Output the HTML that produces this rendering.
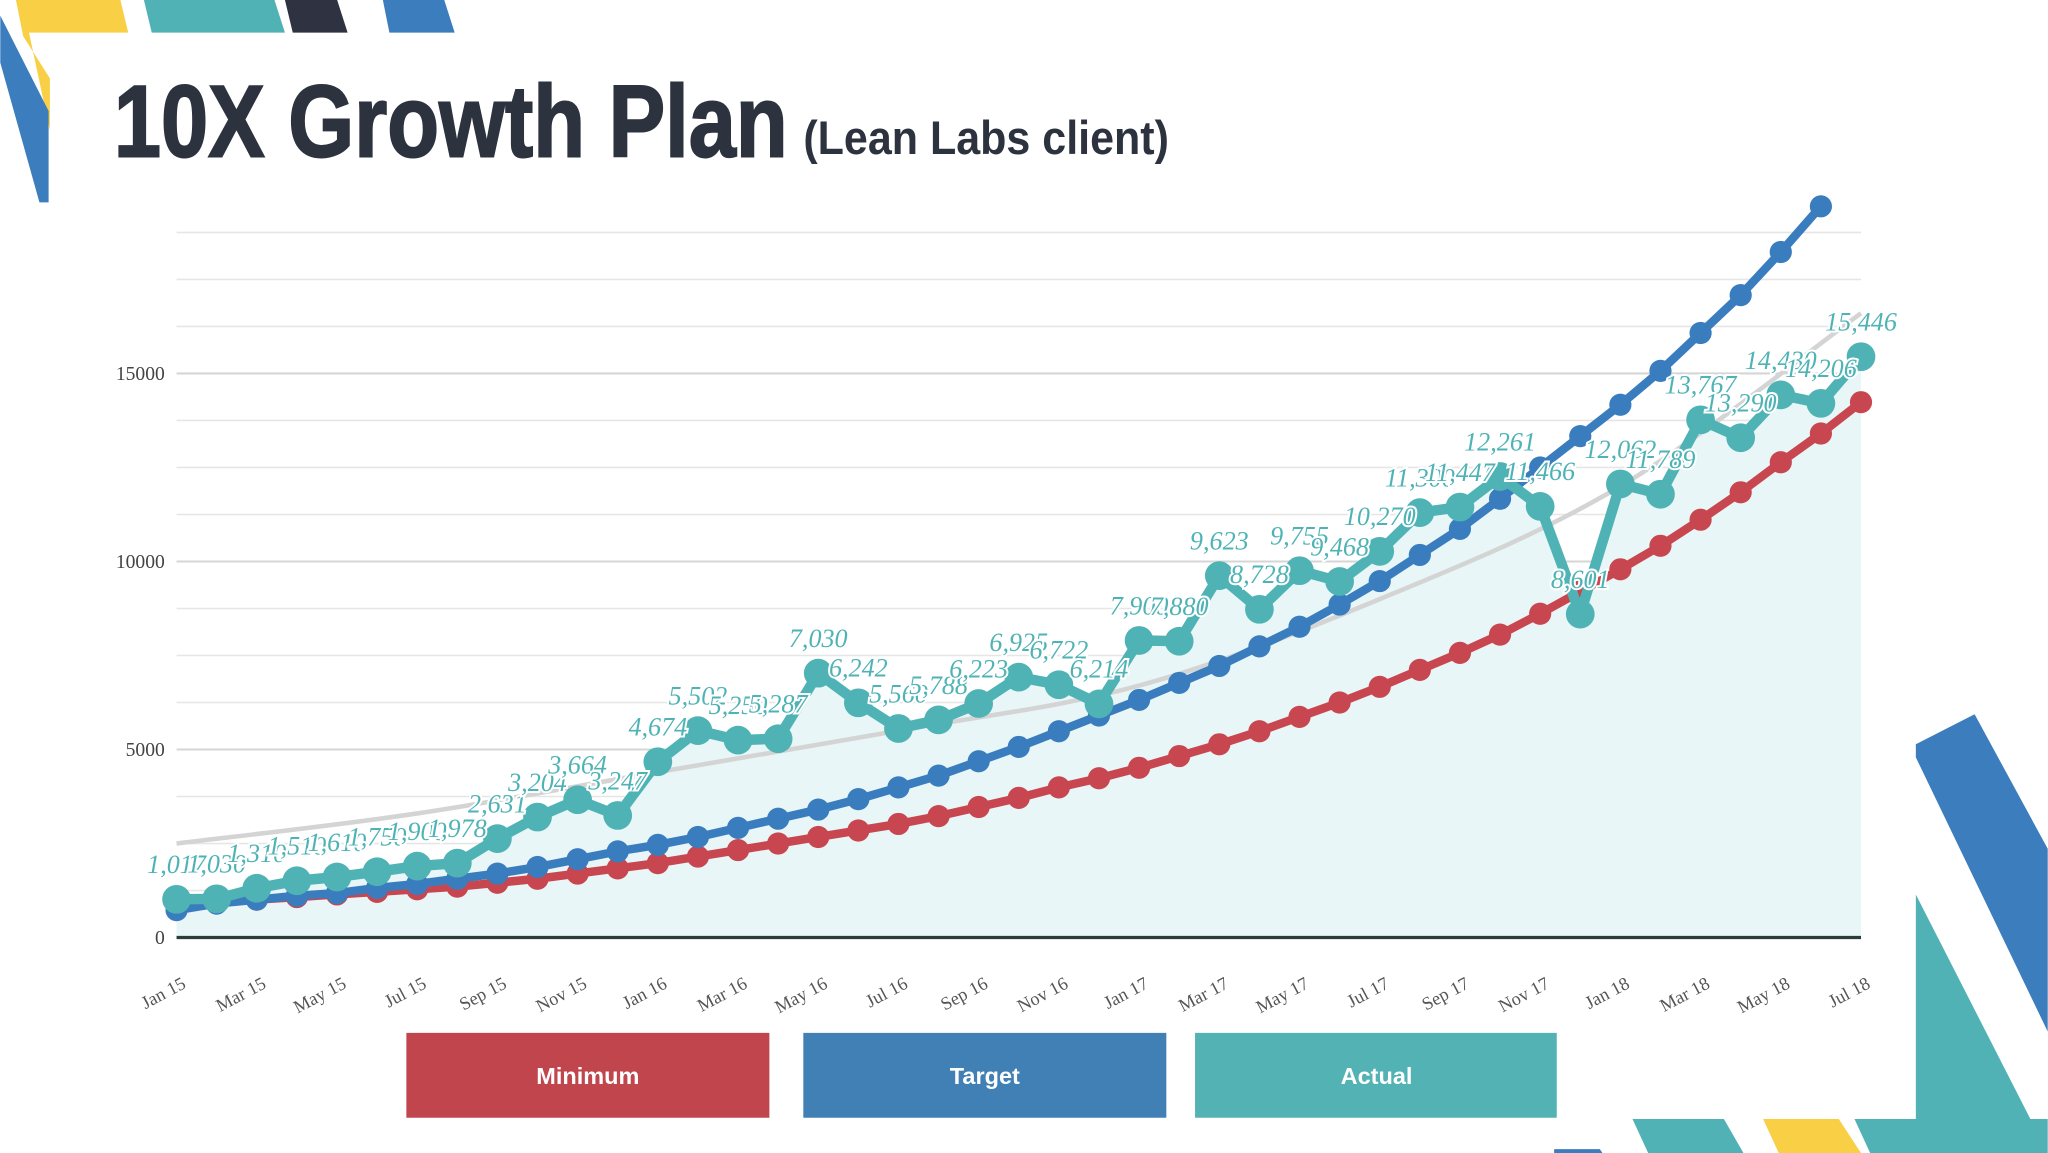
<!DOCTYPE html>
<html><head><meta charset="utf-8"><style>
html,body{margin:0;padding:0;background:#fff;width:2048px;height:1153px;overflow:hidden}
</style></head><body>
<svg id="c" width="2048" height="1153" viewBox="0 0 1568 883" xmlns="http://www.w3.org/2000/svg">
<g>
<polygon points="0,0 92,0 98,25 22,25 38,100 38,60 0,0" fill="#f8cf45"/>
<polygon points="0,0 12,0 40,140 37,155 0,40" fill="#fff"/>
<polygon points="0,12 37,85 37,155 30,155 0,48" fill="#3b7dbd"/>
<polygon points="110,0 210,0 218,25 116,25" fill="#51b2b6"/>
<polygon points="218,0 258,0 266,25 224,25" fill="#2f3341"/>
<polygon points="293,0 340,0 348,25 298,25" fill="#3b7dbd"/>
<polygon points="1512,547 1568,650 1568,790 1467,580 1467,570" fill="#3b7dbd"/>
<polygon points="1467,685 1568,883 1467,883" fill="#51b2b6"/>
<polygon points="1190,880 1225,880 1227,883 1190,883" fill="#3b7dbd"/>
<polygon points="1250,857 1320,857 1335,883 1262,883" fill="#51b2b6"/>
<polygon points="1350,857 1408,857 1425,883 1362,883" fill="#f8cf45"/>
<polygon points="1420,857 1568,857 1568,883 1432,883" fill="#51b2b6"/>
</g>
<text x="87" y="120" font-family="Liberation Sans Narrow, Liberation Sans, sans-serif" font-weight="bold" font-size="78" fill="#2d323f" stroke="#2d323f" stroke-width="1.5" textLength="516" lengthAdjust="spacingAndGlyphs">10X Growth Plan</text>
<text x="615" y="118" font-family="Liberation Sans Narrow, Liberation Sans, sans-serif" font-weight="bold" font-size="36" fill="#2d323f" textLength="280" lengthAdjust="spacingAndGlyphs">(Lean Labs client)</text>
<g id="grid"></g><g id="area"></g><g id="trend"></g><g id="series"></g><g id="labels"></g><g id="axes"></g>
<g font-family="Liberation Sans, sans-serif" font-weight="bold" font-size="18" fill="#fff" text-anchor="middle">
<rect x="311" y="791" width="278" height="65" fill="#c1454d"/>
<text x="450" y="830">Minimum</text>
<rect x="615" y="791" width="278" height="65" fill="#4180b5"/>
<text x="754" y="830">Target</text>
<rect x="915" y="791" width="277" height="65" fill="#52b2b4"/>
<text x="1054" y="830">Actual</text>
</g>
</svg>
<script>
const months=["Jan","Feb","Mar","Apr","May","Jun","Jul","Aug","Sep","Oct","Nov","Dec"];
const actual=[1017,1030,1310,1510,1610,1750,1900,1978,2631,3204,3664,3247,4674,5502,5250,5287,7030,6242,5560,5788,6223,6925,6722,6214,7900,7880,9623,8728,9755,9468,10270,11300,11447,12261,11466,8601,12062,11789,13767,13290,14430,14206,15446];
const target=[729,903,1007,1111,1181,1319,1424,1563,1701,1875,2083,2292,2465,2674,2917,3160,3403,3681,3993,4306,4688,5069,5486,5903,6319,6771,7222,7743,8264,8854,9479,10174,10868,11667,12500,13333,14167,15069,16076,17083,18229,19444];
const minimum=[868,938,1007,1076,1146,1215,1285,1354,1458,1563,1701,1840,1979,2153,2326,2500,2674,2847,3021,3229,3472,3715,3993,4236,4514,4826,5139,5486,5868,6250,6667,7118,7569,8056,8611,9201,9792,10417,11111,11840,12639,13403,14236];
const trendIdx=[0,6,12,18,24,30,36,42];
const trendVal=[2500,3300,4400,5500,6700,9000,12000,16600];
const yTicks=[0,5000,10000,15000];
const NS="http://www.w3.org/2000/svg";
const X0=135,X1=1425,Y0=718,PX=144/5000;
const xs=i=>X0+(X1-X0)*i/42;
const ys=v=>Y0-v*PX;
function mk(t,a,p){const e=document.createElementNS(NS,t);for(const k in a)e.setAttribute(k,a[k]);p.appendChild(e);return e;}
const grid=document.getElementById('grid');
for(let v=1250;v<=18750;v+=1250){const l=mk('line',{x1:X0,x2:X1,y1:ys(v),y2:ys(v),stroke:v%5000==0?'#d6d6d6':'#e6e6e6','stroke-width':v%5000==0?1.6:1.2},grid);

}
const axes=document.getElementById('axes');
const ax=mk('line',{x1:X0,x2:X1,y1:Y0,y2:Y0,stroke:'#2a3d3a','stroke-width':2.5},axes);


yTicks.forEach(v=>{const t=mk('text',{x:126,y:ys(v)+5,'text-anchor':'end','font-family':'Liberation Serif, serif','font-size':15,fill:'#444'},axes);t.textContent=v;

});
for(let i=0;i<43;i+=2){const x=xs(i),y=736;const t=mk('text',{x:x+8,y:y+20,'text-anchor':'end','font-family':'Liberation Serif, serif','font-size':14,fill:'#555',transform:`rotate(-28 ${x+8} ${y+20})`},axes);
t.textContent=months[i%12]+' '+(15+Math.floor(i/12));

}
const area=document.getElementById('area');
let d='M'+xs(0)+','+Y0;actual.forEach((v,i)=>d+=' L'+xs(i)+','+ys(v));d+=' L'+xs(42)+','+Y0+'Z';
const ar=mk('path',{d:d,fill:'#e8f6f7'},area);


const tp=trendIdx.map((k,j)=>[xs(k),ys(trendVal[j])]);
let td='M'+tp[0][0]+','+tp[0][1];
for(let j=0;j<tp.length-1;j++){const p0=tp[Math.max(0,j-1)],p1=tp[j],p2=tp[j+1],p3=tp[Math.min(tp.length-1,j+2)];
td+=` C${p1[0]+(p2[0]-p0[0])/6},${p1[1]+(p2[1]-p0[1])/6} ${p2[0]-(p3[0]-p1[0])/6},${p2[1]-(p3[1]-p1[1])/6} ${p2[0]},${p2[1]}`;}
const tr=mk('path',{d:td,fill:'none',stroke:'#d4d4d4','stroke-width':3.5},document.getElementById('trend'));


const ser=document.getElementById('series');
function draw(arr,color,w,r,name){
 const g=mk('g',{},ser);
 
 
 const p=mk('polyline',{points:arr.map((v,i)=>xs(i)+','+ys(v)).join(' '),fill:'none',stroke:color,'stroke-width':w,'stroke-linejoin':'round'},g);
 
 
 arr.forEach((v,i)=>{const c=mk('circle',{cx:xs(i),cy:ys(v),r:r,fill:color},g);
 
 });
}
draw(minimum,'#c8464f',6.5,8.5,'minimum');
draw(target,'#3a7dbf',6.5,8.5,'target');
draw(actual,'#4fb3b5',8,11,'actual');
const lab=document.getElementById('labels');
actual.forEach((v,i)=>{const t=mk('text',{x:xs(i),y:ys(v)-20,'text-anchor':'middle','font-family':'Liberation Serif, serif','font-style':'italic','font-size':20,fill:'#4fb3b5',stroke:'#fff','stroke-width':3,'paint-order':'stroke'},lab);
t.textContent=v.toLocaleString('en-US');

});
</script>
</body></html>
